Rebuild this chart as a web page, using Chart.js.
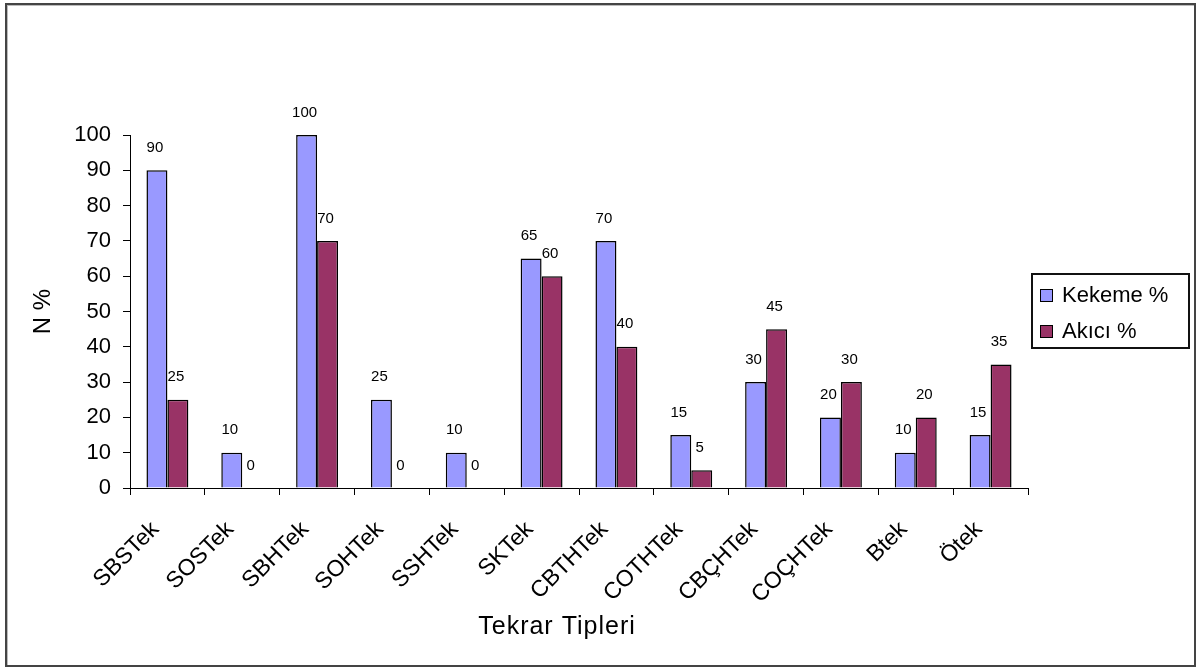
<!DOCTYPE html>
<html>
<head>
<meta charset="utf-8">
<script src="https://cdn.jsdelivr.net/npm/chart.js@4/dist/chart.umd.min.js"></script>
<style>
  html, body { margin: 0; padding: 0; background: #fff; }
  #wrap { position: relative; width: 1199px; height: 668px; }
  #frame {
    position: absolute; left: 5px; top: 3px; width: 1191px; height: 664px;
    box-sizing: border-box; border: 2px solid #444; pointer-events: none;
    box-shadow: inset 1px 1px 0 #bbb;
  }
</style>
</head>
<body>
<div id="wrap">
  <canvas id="myChart" width="1199" height="668"></canvas>
  <div id="frame"></div>
</div>
<script>
// kategoriler ve seriler
const categories = ['SBSTek', 'SOSTek', 'SBHTek', 'SOHTek', 'SSHTek', 'SKTek', 'CBTHTek', 'COTHTek', 'CBÇHTek', 'COÇHTek', 'Btek', 'Ötek'];
const kekeme = [90, 10, 100, 25, 10, 65, 70, 15, 30, 20, 10, 15];
const akici = [25, 0, 70, 0, 0, 60, 40, 5, 45, 30, 20, 35];
const yTicks = [0, 10, 20, 30, 40, 50, 60, 70, 80, 90, 100];
const xTitle = 'Tekrar Tipleri';

const FONT = "'Liberation Sans', Arial, sans-serif";

// bar üstü değer etiketleri
const valueLabels = {
    id: 'valueLabels',
    afterDatasetsDraw(chart) {
        const ctx = chart.ctx;
        ctx.save();
        ctx.font = '15px ' + FONT;
        ctx.fillStyle = '#000';
        ctx.textAlign = 'center';
        ctx.textBaseline = 'bottom';
        chart.data.datasets.forEach((ds, i) => {
            chart.getDatasetMeta(i).data.forEach((bar, j) => {
                ctx.fillText(String(ds.data[j]), bar.x - 2, bar.y - 15);
            });
        });
        ctx.restore();
    }
};

// x ekseni başlığı (Excel'deki gibi biraz sola kaymış)
const axisTitle = {
    id: 'axisTitle',
    afterDraw(chart) {
        const ctx = chart.ctx;
        ctx.save();
        ctx.font = '25px ' + FONT;
        ctx.letterSpacing = '1px';
        ctx.fillStyle = '#000';
        ctx.textAlign = 'center';
        ctx.textBaseline = 'middle';
        ctx.fillText(xTitle, 557, 627);
        ctx.restore();
    }
};

// sağdaki kutulu lejant
const boxLegend = {
    id: 'boxLegend',
    afterDraw(chart) {
        const ctx = chart.ctx;
        const x0 = 1032, y0 = 274, w = 157, h = 74;
        ctx.save();
        ctx.lineWidth = 2;
        ctx.strokeStyle = '#111';
        ctx.strokeRect(x0, y0, w, h);
        ctx.font = '22px ' + FONT;
        ctx.textBaseline = 'middle';
        chart.data.datasets.forEach((ds, i) => {
            const cy = y0 + 21 + i * 36;
            ctx.fillStyle = ds.backgroundColor;
            ctx.fillRect(x0 + 8, cy - 6, 13, 13);
            ctx.lineWidth = 1;
            ctx.strokeStyle = '#000';
            ctx.strokeRect(x0 + 8.5, cy - 5.5, 12, 12);
            ctx.fillStyle = '#000';
            ctx.fillText(ds.label, x0 + 30, cy + 1);
        });
        ctx.restore();
    }
};

const ctx = document.getElementById('myChart').getContext('2d');
const myChart = new Chart(ctx, {
    type: 'bar',
    data: {
        labels: categories,
        datasets: [
            {
                label: 'Kekeme %',
                data: kekeme,
                backgroundColor: '#9999FF',
                borderColor: '#000',
                borderWidth: 1.5,
                categoryPercentage: 0.56,
                barPercentage: 1.0
            },
            {
                label: 'Akıcı %',
                data: akici,
                backgroundColor: '#993366',
                borderColor: '#000',
                borderWidth: 1.5,
                categoryPercentage: 0.56,
                barPercentage: 1.0
            }
        ]
    },
    options: {
        responsive: false,
        animation: false,
        layout: { padding: { top: 135, right: 171, left: 0, bottom: 0 } },
        plugins: {
            legend: { display: false },
            tooltip: { enabled: false },
            title: { display: false }
        },
        scales: {
            x: {
                afterFit(scale) { scale.height = 180; },
                grid: { drawOnChartArea: false, drawTicks: true, tickLength: 7, color: '#000', offset: true },
                border: { color: '#000', width: 1 },
                ticks: {
                    autoSkip: false,
                    minRotation: 45,
                    maxRotation: 45,
                    color: '#000',
                    padding: 21,
                    labelOffset: -12,
                    font: { family: FONT, size: 23 }
                }
            },
            y: {
                min: 0,
                max: 100,
                afterFit(scale) { scale.width = 130; },
                afterBuildTicks(scale) { scale.ticks = yTicks.map(v => ({ value: v })); },
                grid: { drawOnChartArea: false, drawTicks: true, tickLength: 7, color: '#000' },
                border: { color: '#000', width: 1 },
                ticks: {
                    color: '#000',
                    padding: 12,
                    font: { family: FONT, size: 22 }
                },
                title: {
                    display: true,
                    text: 'N %',
                    color: '#000',
                    font: { family: FONT, size: 24 },
                    padding: { top: 29, bottom: 0 }
                }
            }
        }
    },
    plugins: [valueLabels, axisTitle, boxLegend]
});
</script>
</body>
</html>
